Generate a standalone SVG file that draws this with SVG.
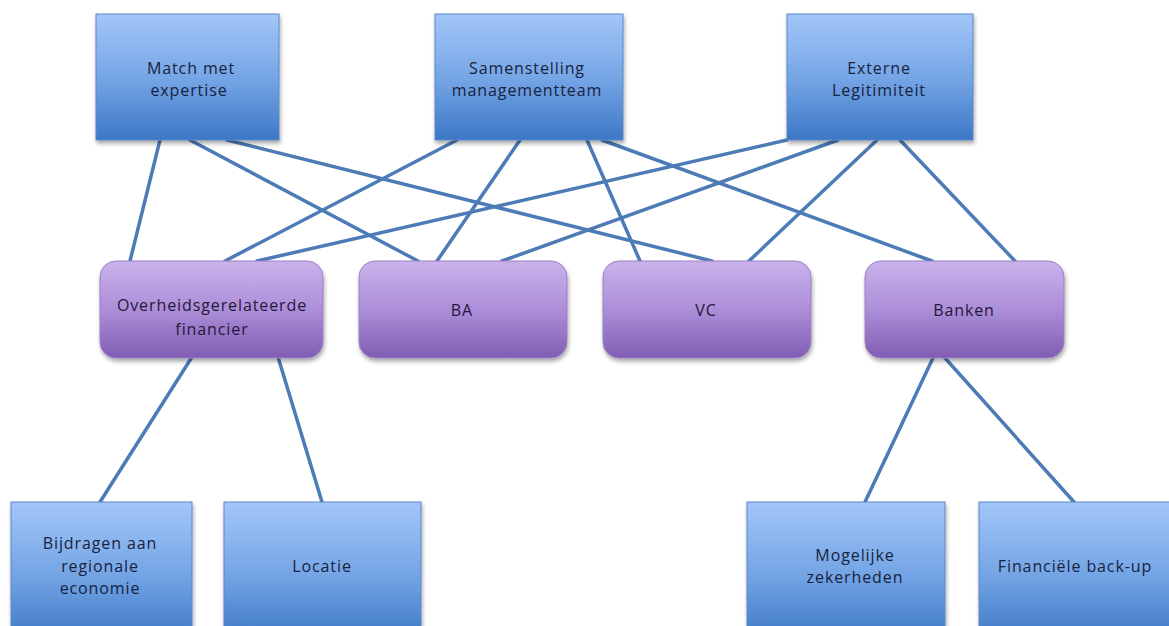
<svg xmlns="http://www.w3.org/2000/svg" width="1169" height="626" viewBox="0 0 1169 626">
<defs>
<linearGradient id="gBlue" x1="0" y1="0" x2="0" y2="1">
<stop offset="0" stop-color="#a3c6f8"/>
<stop offset="0.5" stop-color="#76a6e6"/>
<stop offset="1" stop-color="#3d77c5"/>
</linearGradient>
<linearGradient id="gPurple" x1="0" y1="0" x2="0" y2="1">
<stop offset="0" stop-color="#cbb2ec"/>
<stop offset="0.5" stop-color="#ac8ed8"/>
<stop offset="1" stop-color="#805db3"/>
</linearGradient>
<filter id="shadow" x="-10%" y="-10%" width="125%" height="130%">
<feGaussianBlur in="SourceAlpha" stdDeviation="2"/>
<feOffset dx="1" dy="3" result="b"/>
<feComponentTransfer><feFuncA type="linear" slope="0.35"/></feComponentTransfer>
<feMerge><feMergeNode/><feMergeNode in="SourceGraphic"/></feMerge>
</filter>
<style>
.blue{fill:url(#gBlue);stroke:#5a88c6;stroke-width:1;filter:url(#shadow)}
.purple{fill:url(#gPurple);stroke:#9a80c4;stroke-width:1;filter:url(#shadow)}
.t{font-family:"Open Sans","Liberation Sans",sans-serif;font-size:16px;letter-spacing:0.9px;text-anchor:middle;fill:#17233f}
.tp{font-family:"Open Sans","Liberation Sans",sans-serif;font-size:16px;letter-spacing:0.9px;text-anchor:middle;fill:#25183a}
.c{stroke:#4c7bb6;stroke-width:3.5;fill:none;stroke-linecap:round}
</style>
</defs>
<rect width="1169" height="626" fill="#ffffff"/>
<g id="connectors">
<line class="c" x1="160" y1="140" x2="130" y2="261"/>
<line class="c" x1="190" y1="140" x2="418" y2="261"/>
<line class="c" x1="227" y1="140" x2="712" y2="261"/>
<line class="c" x1="457" y1="140" x2="225" y2="261"/>
<line class="c" x1="520" y1="140" x2="437" y2="261"/>
<line class="c" x1="587" y1="140" x2="640" y2="261"/>
<line class="c" x1="602" y1="140" x2="932" y2="261"/>
<line class="c" x1="787" y1="140" x2="257" y2="261"/>
<line class="c" x1="838" y1="140" x2="502" y2="261"/>
<line class="c" x1="877" y1="140" x2="749" y2="261"/>
<line class="c" x1="900" y1="140" x2="1015" y2="261"/>
<line class="c" x1="192" y1="357" x2="100" y2="502"/>
<line class="c" x1="278" y1="357" x2="322" y2="502"/>
<line class="c" x1="933" y1="358" x2="865" y2="502"/>
<line class="c" x1="945" y1="358" x2="1074" y2="502"/>
</g>
<g id="match">
<rect class="blue" x="96" y="14" width="183" height="126"/>
<text class="t" x="191" y="74">Match met</text>
<text class="t" x="189" y="96">expertise</text>
</g>
<g id="samenstelling">
<rect class="blue" x="435" y="14" width="188" height="126"/>
<text class="t" x="527" y="74">Samenstelling</text>
<text class="t" x="527" y="96">managementteam</text>
</g>
<g id="externe">
<rect class="blue" x="787" y="14" width="186" height="126"/>
<text class="t" x="879" y="74">Externe</text>
<text class="t" x="879" y="96">Legitimiteit</text>
</g>
<g id="overheid">
<rect class="purple" x="100" y="261" width="223" height="97" rx="16"/>
<text class="tp" x="212" y="311">Overheidsgerelateerde</text>
<text class="tp" x="212" y="335">financier</text>
</g>
<g id="ba">
<rect class="purple" x="359" y="261" width="208" height="97" rx="16"/>
<text class="tp" x="462" y="316">BA</text>
</g>
<g id="vc">
<rect class="purple" x="603" y="261" width="208" height="97" rx="16"/>
<text class="tp" x="706" y="316">VC</text>
</g>
<g id="banken">
<rect class="purple" x="865" y="261" width="199" height="97" rx="16"/>
<text class="tp" x="964" y="316">Banken</text>
</g>
<g id="bijdragen">
<rect class="blue" x="11" y="502" width="181" height="140"/>
<text class="t" x="100" y="549">Bijdragen aan</text>
<text class="t" x="100" y="572">regionale</text>
<text class="t" x="100" y="594">economie</text>
</g>
<g id="locatie">
<rect class="blue" x="224" y="502" width="197" height="140"/>
<text class="t" x="322" y="572">Locatie</text>
</g>
<g id="mogelijke">
<rect class="blue" x="747" y="502" width="198" height="140"/>
<text class="t" x="855" y="561">Mogelijke</text>
<text class="t" x="855" y="583">zekerheden</text>
</g>
<g id="financiele">
<rect class="blue" x="979" y="502" width="195" height="140"/>
<text class="t" x="1075" y="572">Financiële back-up</text>
</g>
</svg>
